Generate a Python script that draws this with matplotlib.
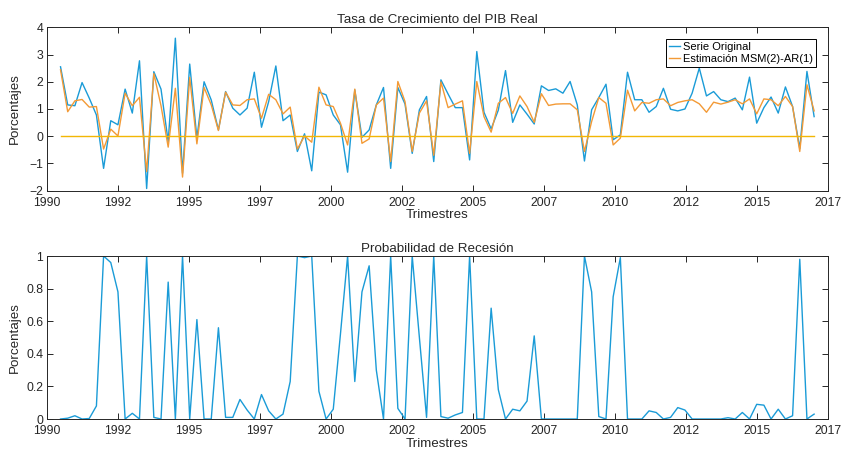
import numpy as np
import matplotlib.pyplot as plt

plt.rcParams['font.family'] = ['Liberation Sans', 'DejaVu Sans']

# quarterly real GDP growth (%), from 1990Q3
growth = [2.55, 1.15, 1.12, 1.97, 1.40, 0.78, -1.18, 0.57, 0.42, 1.73,
          0.85, 2.77, -1.92, 2.37, 1.73, -0.20, 3.60, -1.36, 2.65, -0.07,
          2.00, 1.33, 0.23, 1.64, 1.03, 0.78, 1.03, 2.35, 0.33, 1.27,
          2.58, 0.57, 0.78, -0.56, 0.09, -1.27, 1.62, 1.52, 0.78, 0.42,
          -1.32, 1.70, -0.04, 0.23, 1.15, 1.79, -1.18, 1.79, 1.18, -0.63,
          0.97, 1.46, -0.93, 2.07, 1.55, 1.05, 1.05, -0.87, 3.11, 0.88,
          0.27, 0.96, 2.41, 0.51, 1.15, 0.81, 0.45, 1.85, 1.68, 1.74,
          1.58, 2.01, 1.15, -0.91, 0.97, 1.42, 1.91, -0.13, 0.05, 2.35,
          1.34, 1.34, 0.88, 1.09, 1.76, 0.99, 0.93, 1.00, 1.58, 2.50,
          1.48, 1.64, 1.34, 1.27, 1.40, 0.97, 2.17, 0.48, 1.05, 1.44,
          0.85, 1.81, 1.09, -0.45, 2.38, 0.72]

# fitted values of the MSM(2)-AR(1) model
fitted = [2.44, 0.90, 1.30, 1.35, 1.07, 1.09, -0.47, 0.26, 0.01, 1.58,
          1.12, 1.43, -1.30, 2.30, 1.12, -0.40, 1.76, -1.50, 2.16, -0.28,
          1.79, 1.15, 0.21, 1.62, 1.15, 1.13, 1.34, 1.37, 0.66, 1.54,
          1.34, 0.82, 1.07, -0.47, 0.01, -0.22, 1.80, 1.15, 1.09, 0.48,
          -0.32, 1.73, -0.26, -0.10, 1.15, 1.40, -0.93, 2.01, 1.27, -0.56,
          0.85, 1.30, -0.70, 1.99, 1.05, 1.18, 1.30, -0.63, 2.01, 0.72,
          0.15, 1.21, 1.42, 0.84, 1.48, 1.09, 0.51, 1.56, 1.13, 1.18,
          1.19, 1.19, 0.97, -0.56, 0.54, 1.42, 1.21, -0.32, -0.07, 1.69,
          0.93, 1.24, 1.21, 1.34, 1.37, 1.12, 1.24, 1.30, 1.34, 1.19,
          0.88, 1.25, 1.18, 1.25, 1.34, 1.19, 1.37, 0.82, 1.37, 1.34,
          1.12, 1.46, 1.09, -0.56, 1.89, 0.93]

# smoothed probability of the recession regime
prob = [0.00, 0.005, 0.02, 0.00, 0.003, 0.08, 1.00, 0.96, 0.78, 0.00,
        0.035, 0.00, 1.00, 0.01, 0.00, 0.84, 0.00, 1.00, 0.00, 0.61,
        0.00, 0.00, 0.56, 0.01, 0.01, 0.12, 0.055, 0.00, 0.15, 0.05,
        0.00, 0.03, 0.23, 1.00, 0.99, 1.00, 0.17, 0.00, 0.06, 0.52,
        1.00, 0.23, 0.78, 0.94, 0.30, 0.00, 1.00, 0.065, 0.00, 1.00,
        0.50, 0.01, 1.00, 0.015, 0.005, 0.025, 0.04, 1.00, 0.00, 0.00,
        0.68, 0.18, 0.00, 0.06, 0.05, 0.11, 0.51, 0.00, 0.00, 0.00,
        0.00, 0.00, 0.00, 1.00, 0.78, 0.015, 0.00, 0.75, 0.99, 0.00,
        0.00, 0.00, 0.05, 0.04, 0.00, 0.01, 0.07, 0.055, 0.00, 0.00,
        0.00, 0.00, 0.00, 0.008, 0.00, 0.04, 0.00, 0.09, 0.085, 0.00,
        0.06, 0.00, 0.02, 0.98, 0.00, 0.03]

tick_labels = ['1990', '1992', '1995', '1997', '2000', '2002',
               '2005', '2007', '2010', '2012', '2015', '2017']

dates = 1990.5 + 0.25 * np.arange(len(growth))

c_blue = '#1A9BD7'
c_orange = '#F39A36'
c_yellow = '#F2B705'
c_axis = '#262626'

xmin, xmax = 1990.0125, 2017.245
xticks = np.linspace(xmin, xmax, len(tick_labels))


def style(ax):
    ax.set_xlim(xmin, xmax)
    ax.set_xticks(xticks)
    ax.set_xticklabels(tick_labels)
    ax.tick_params(direction='in', top=True, right=True, length=4, width=0.7,
                   colors=c_axis, labelsize=8.8, pad=2.5)
    ax.tick_params(axis='x', pad=4.5)
    for s in ax.spines.values():
        s.set_color(c_axis)
        s.set_linewidth(0.7)
    ax.set_xlabel('Trimestres', fontsize=9.6, color=c_axis)
    ax.set_ylabel('Porcentajes', fontsize=9.6, color=c_axis)
    ax.xaxis.set_label_coords(0.5, -0.115)
    ax.yaxis.set_label_coords(-0.033, 0.5)


fig = plt.figure(figsize=(8.43, 4.49), dpi=100)

# =========================================================
# TOP: GDP GROWTH
# =========================================================

ax1 = fig.add_axes([0.0552, 0.5753, 0.9274, 0.3639])
ax1.plot(dates, growth, color=c_blue, lw=1.0, label='Serie Original')
ax1.plot(dates, fitted, color=c_orange, lw=1.0, label='Estimación MSM(2)-AR(1)')
ax1.plot(dates, np.zeros(len(dates)), color=c_yellow, lw=1.0)
ax1.set_ylim(-2, 4)
ax1.set_yticks(range(-2, 5))
style(ax1)
ax1.set_title('Tasa de Crecimiento del PIB Real', fontsize=9.6, color=c_axis, pad=3)

leg = ax1.legend(loc='upper right', bbox_to_anchor=(0.9843, 0.9266),
                 borderaxespad=0, fontsize=8, handlelength=1.0,
                 handletextpad=0.3, labelspacing=0.15, borderpad=0.25,
                 fancybox=False, framealpha=1)
leg.get_frame().set_edgecolor('black')
leg.get_frame().set_linewidth(0.7)

# =========================================================
# BOTTOM: RECESSION PROBABILITY
# =========================================================

ax2 = fig.add_axes([0.0552, 0.0668, 0.9274, 0.3630])
ax2.plot(dates, prob, color=c_blue, lw=1.0)
ax2.set_ylim(0, 1)
ax2.set_yticks([0, 0.2, 0.4, 0.6, 0.8, 1])
ax2.set_yticklabels(['0', '0.2', '0.4', '0.6', '0.8', '1'])
style(ax2)
ax2.set_title('Probabilidad de Recesión', fontsize=9.6, color=c_axis, pad=3)

fig.savefig('out.png', dpi=100)
